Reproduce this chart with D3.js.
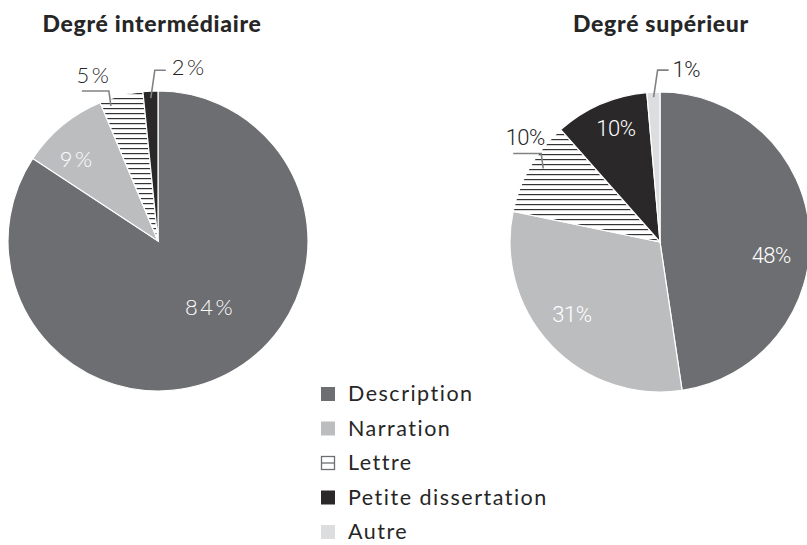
<!DOCTYPE html>
<html><head><meta charset="utf-8">
<script src="https://cdn.jsdelivr.net/npm/d3@7"></script>
<style>body{margin:0;background:#fff;} svg{display:block;}</style>
</head><body>
<svg id="c" width="807" height="545"></svg>
<script>
// ---- data ----
const categories = ["Description", "Narration", "Lettre", "Petite dissertation", "Autre"];
const titles = ["Degré intermédiaire", "Degré supérieur"];
const valuesIntermediaire = [84.2, 9.4, 4.7, 1.6, 0];
const valuesSuperieur = [47.6, 30.6, 10.2, 10.1, 1.4];
const labelsIntermediaire = ["84%", "9%", "5%", "2%", ""];
const labelsSuperieur = ["48%", "31%", "10%", "10%", "1%"];

// ---- style / layout ----
const colors = {"Description":"#6d6e71","Narration":"#bcbdbf","Lettre":"url(#hatch)","Petite dissertation":"#2a2829","Autre":"#dcdddf"};
const legendColors = {"Description":"#6d6e71","Narration":"#bcbdbf","Lettre":"#fff","Petite dissertation":"#2a2829","Autre":"#dcdddf"};
const svg = d3.select("#c");
const defs = svg.append("defs");
const pat = defs.append("pattern").attr("id","hatch").attr("patternUnits","userSpaceOnUse")
  .attr("width",10).attr("height",5);
pat.append("rect").attr("width",10).attr("height",5).attr("fill","#fff");
pat.append("rect").attr("y",2).attr("width",10).attr("height",1.2).attr("fill","#333");

const R = 150;
const charts = [
  {title: titles[0], values: valuesIntermediaire, labels: labelsIntermediaire, cx:158, cy:241, titleX:152,
   lab: {
     0:{type:"in", dAng:-10, r:84, font:"wide"},
     1:{type:"in", dAng:-5, r:115, font:"wide"},
     2:{type:"out", dAng:-5, r:143, up:15, h:-27, anchor:"middle", tx:12, ty:-8, font:"wide"},
     3:{type:"out", dAng:0, r:143, up:28, h:11, anchor:"start", tx:6, ty:5, font:"wide"}
   }},
  {title: titles[1], values: valuesSuperieur, labels: labelsSuperieur, cx:660, cy:242, titleX:661,
   lab: {
     0:{type:"in", dAng:11, r:112, font:"narrow"},
     1:{type:"in", dAng:4, r:114, font:"narrow"},
     2:{type:"out", dAng:2, r:138, up:15, h:-28, anchor:"middle", tx:12, ty:-9, font:"narrow"},
     3:{type:"in", dAng:2, r:122, font:"narrow"},
     4:{type:"out", dAng:0, r:145, up:27, h:11, anchor:"start", tx:4, ty:7, font:"narrow"}
   }}
];

const pie = d3.pie().sort(null).value(d=>d.v);
const arc = d3.arc().innerRadius(0).outerRadius(R);

charts.forEach(ch=>{
  const data = categories.map((c,i)=>({c, v:ch.values[i], label:ch.labels[i], i}));
  const arcs = pie(data);
  const g = svg.append("g").attr("transform",`translate(${ch.cx},${ch.cy})`);
  g.selectAll("path.slice").data(arcs.filter(a=>a.data.v>0)).join("path")
    .attr("class","slice").attr("d",arc)
    .attr("fill",d=>colors[d.data.c]).attr("stroke","#fff").attr("stroke-width",1.2);

  svg.append("text").attr("x",ch.titleX).attr("y",32).attr("text-anchor","middle")
    .attr("font-family","Lato, 'Open Sans', sans-serif").attr("font-weight",900)
    .attr("font-size",23).attr("letter-spacing",0.7).attr("fill","#262626").text(ch.title);

  arcs.forEach(a=>{
    const cfg = ch.lab[a.data.i];
    if(!cfg || !a.data.label) return;
    const mid = (a.startAngle + a.endAngle)/2;
    const fontFam = cfg.font==="wide" ? "Lato, sans-serif" : "'Liberation Sans Narrow', 'Roboto', sans-serif";
    const ls = cfg.font==="wide" ? 2.5 : -0.5;
    const fw = 300;
    const ang = mid + cfg.dAng*Math.PI/180;
    if(cfg.type==="in"){
      const x = Math.sin(ang)*cfg.r, y = -Math.cos(ang)*cfg.r;
      g.append("text").attr("x",x).attr("y",y+8).attr("text-anchor","middle")
        .attr("font-family",fontFam).attr("font-weight",fw).attr("font-size",22)
        .attr("letter-spacing",ls).attr("fill","#fff").text(a.data.label);
    } else {
      const x0 = Math.sin(ang)*cfg.r, y0 = -Math.cos(ang)*cfg.r;
      const y1 = y0 - cfg.up;
      const x1b = x0 + (cfg.h>0 ? 4 : -2);
      const x2 = x1b + cfg.h;
      g.append("path").attr("d",`M${x0},${y0}L${x1b},${y1}L${x2},${y1}`)
        .attr("fill","none").attr("stroke","#808285").attr("stroke-width",1.6);
      g.append("text").attr("x",x2 + cfg.tx).attr("y",y1+cfg.ty).attr("text-anchor",cfg.anchor)
        .attr("font-family",fontFam).attr("font-weight",fw).attr("font-size",22)
        .attr("letter-spacing",ls).attr("fill","#262626").text(a.data.label);
    }
  });
});

// ---- legend ----
const ly = d3.scalePoint().domain(categories).range([395, 533]);
const lg = svg.append("g");
categories.forEach(c=>{
  const y = ly(c);
  if(c==="Lettre"){
    lg.append("rect").attr("x",321.5).attr("y",y-7.5).attr("width",13).attr("height",13)
      .attr("fill","#fff").attr("stroke","#6d6e71").attr("stroke-width",1.3);
    lg.append("line").attr("x1",321.5).attr("x2",334.5).attr("y1",y-1).attr("y2",y-1)
      .attr("stroke","#6d6e71").attr("stroke-width",1.3);
  } else {
    lg.append("rect").attr("x",321).attr("y",y-8).attr("width",14).attr("height",14)
      .attr("fill",legendColors[c]);
  }
  lg.append("text").attr("x",348).attr("y",y+6).attr("font-family","Lato, sans-serif")
    .attr("font-weight",400).attr("font-size",21.5).attr("letter-spacing",1.5)
    .attr("fill","#262626").text(c);
});
</script>
</body></html>
